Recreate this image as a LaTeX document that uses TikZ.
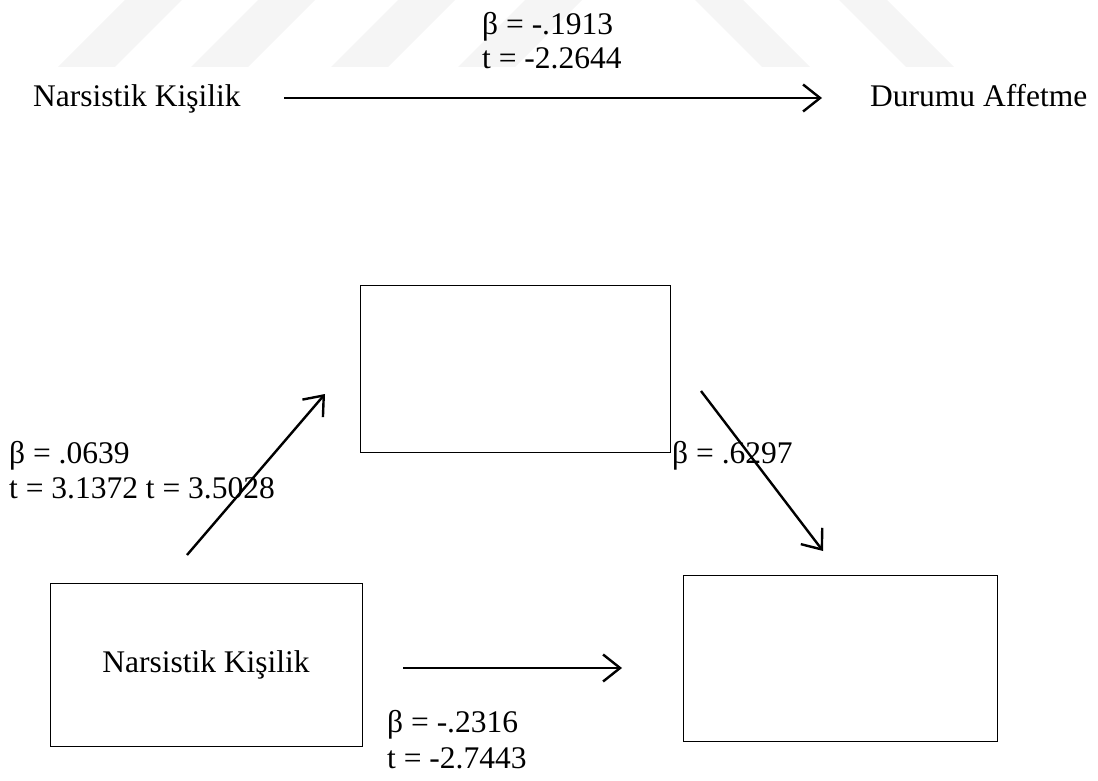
\documentclass[tikz,border=0pt]{standalone}
\usepackage{fontspec}
\setmainfont{Liberation Serif}
\usetikzlibrary{arrows.meta}
\begin{document}
\begin{tikzpicture}[x=1pt,y=-1pt,
  lbl/.style={inner sep=0pt,anchor=base west,font=\fontsize{31.5}{36}\selectfont},
  box/.style={draw,line width=1pt,inner sep=0pt},
  arr/.style={line width=2.4pt,-{Straight Barb[length=17pt,width=27pt,line width=2.4pt]}},
  wm/.style={fill=black!4,draw=none}]
\useasboundingbox (0,0) rectangle (1098,781);
% watermark stripes
\foreach \a in {58,191,331,458}{
  \fill[wm] (\a,67) -- (\a+57,67) -- (\a+57+67,0) -- (\a+67,0) -- cycle;}
\foreach \a in {762,906}{
  \fill[wm] (\a,67) -- (\a+48,67) -- (\a+48-67,0) -- (\a-67,0) -- cycle;}
% top model
\node[lbl] (x1) at (33,107) {Narsistik Kişilik};
\node[lbl] (y1) at (870,107) {Durumu Affetme};
\node[lbl] (b1) at (482,35) {β = -.1913};
\node[lbl] (t1) at (482,69) {t = -2.2644};
\coordinate (a1s) at (284,98);
\coordinate (a1e) at (822,98);
\draw[arr] (a1s) -- (a1e);
% boxes
\node[box,minimum width=310pt,minimum height=167pt] (m) at (515,368.5) {};
\node[box,minimum width=312pt,minimum height=163pt,font=\fontsize{31.5}{36}\selectfont] (x2) at (206,664.5) {Narsistik Kişilik};
\node[box,minimum width=314pt,minimum height=166pt] (y2) at (840,658) {};
% arrows
\coordinate (a2s) at (187,555);
\coordinate (a2e) at (325,394);
\draw[arr] (a2s) -- (a2e);
\coordinate (a3s) at (701,391);
\coordinate (a3e) at (823,551);
\draw[arr] (a3s) -- (a3e);
\coordinate (a4s) at (403,668);
\coordinate (a4e) at (622,668);
\draw[arr] (a4s) -- (a4e);
% labels
\node[lbl] (b2) at (9,463) {β = .0639};
\node[lbl] (t2) at (9,498) {t = 3.1372 t = 3.5028};
\node[lbl] (b3) at (672,463) {β = .6297};
\node[lbl] (b4) at (387,732) {β = -.2316};
\node[lbl] (t4) at (387,768) {t = -2.7443};
\end{tikzpicture}
\end{document}
